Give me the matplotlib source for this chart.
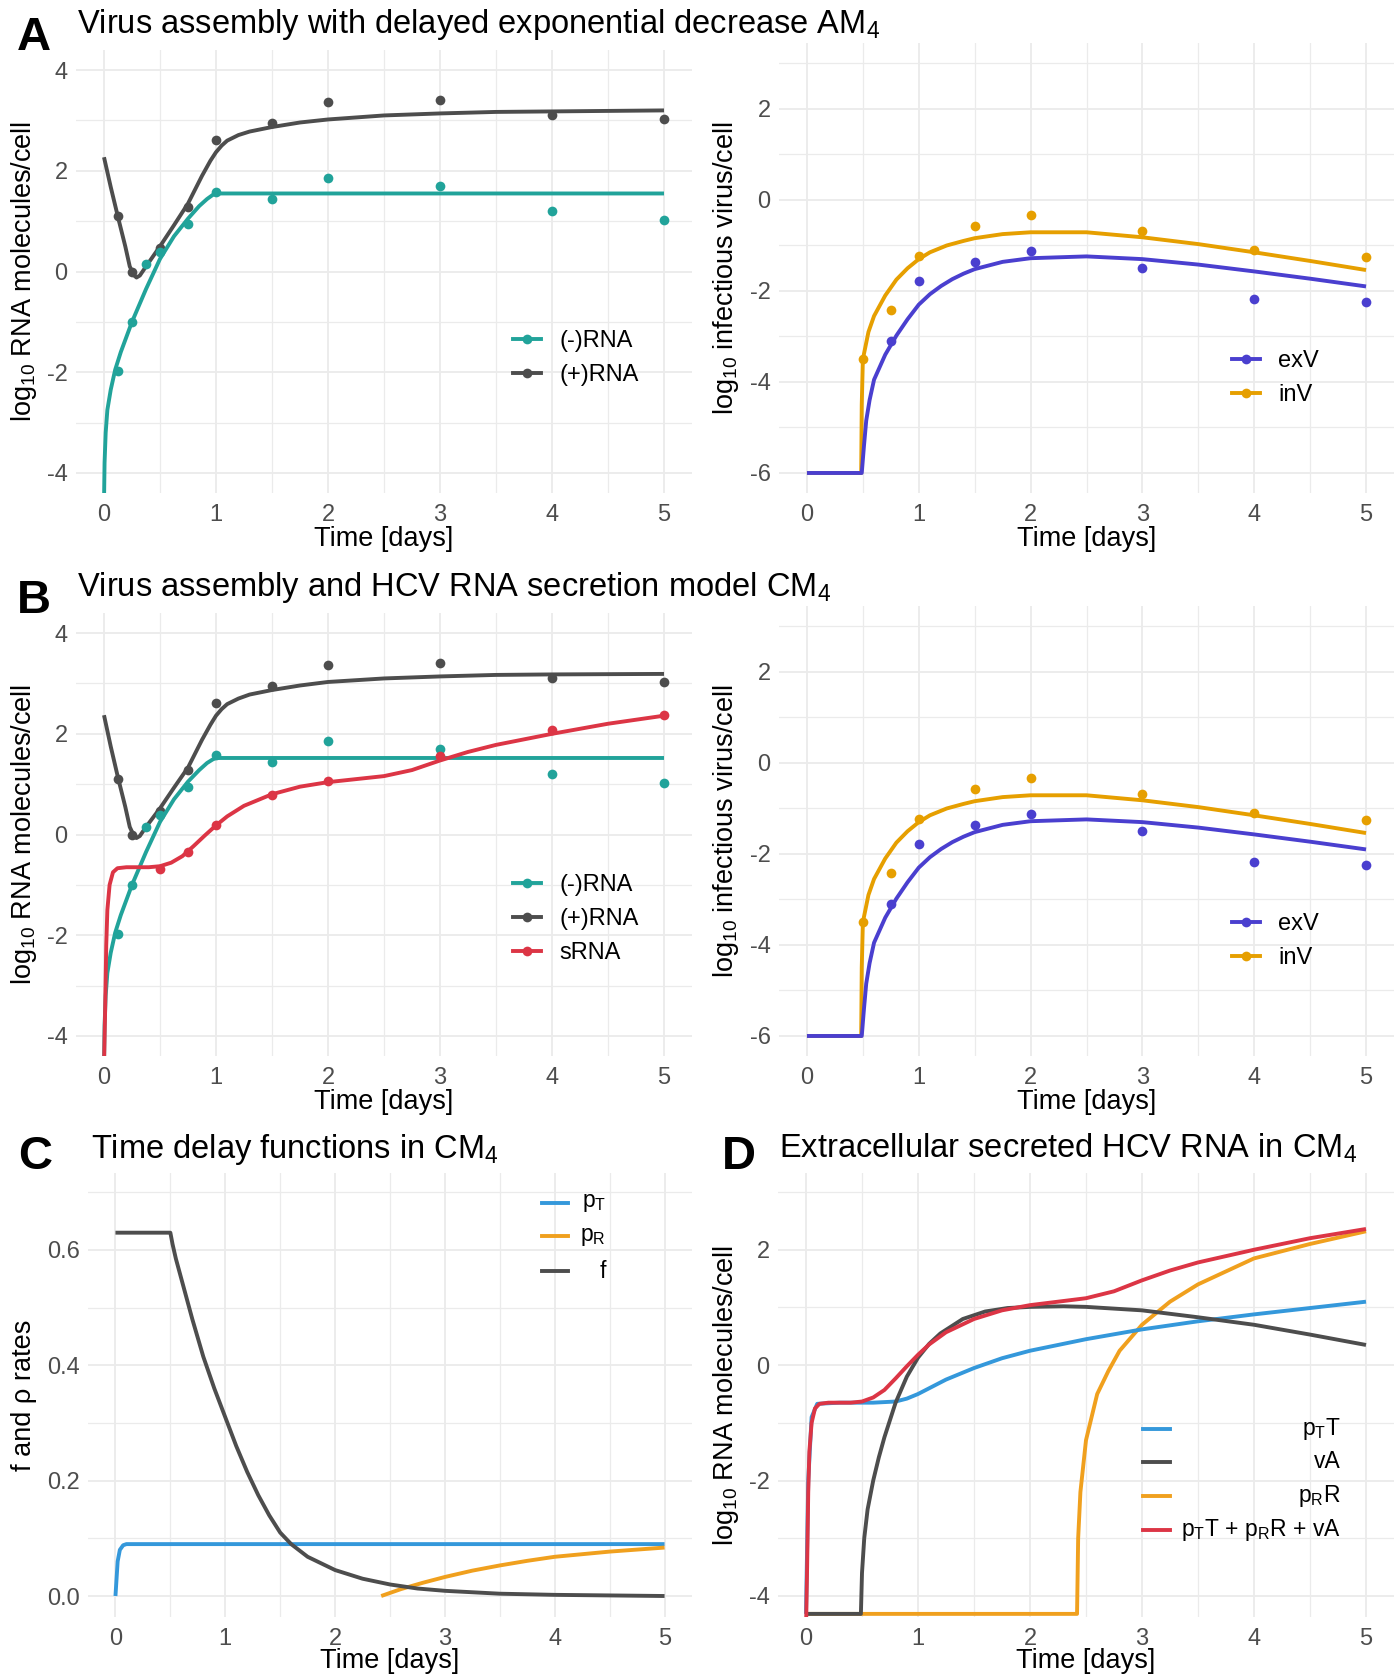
import matplotlib.pyplot as plt
from matplotlib.lines import Line2D

plt.rcParams['font.family'] = ['Liberation Sans', 'DejaVu Sans']
plt.rcParams['mathtext.default'] = 'regular'
plt.rcParams['axes.unicode_minus'] = False

# colours
teal = '#21A39A'
dgrey = '#4D4D4D'
red = '#DC3545'
violet = '#4A3FCF'
gold = '#E69F00'
sky = '#3498DB'
amber = '#F0A01E'

# ---- observations ----
t_neg = [0.125, 0.25, 0.375, 0.5, 0.75, 1, 1.5, 2, 3, 4, 5]
neg_obs = [-1.98, -1.0, 0.15, 0.39, 0.95, 1.57, 1.45, 1.85, 1.70, 1.21, 1.02]
t_pos = [0.125, 0.25, 0.5, 0.75, 1, 1.5, 2, 3, 4, 5]
pos_obs = [1.1, 0.0, 0.47, 1.28, 2.61, 2.94, 3.36, 3.41, 3.10, 3.02]
t_srna = [0.5, 0.75, 1, 1.5, 2, 3, 4, 5]
srna_obs = [-0.69, -0.35, 0.18, 0.78, 1.06, 1.55, 2.08, 2.37]
t_exv = [0.75, 1, 1.5, 2, 3, 4, 5]
exv_obs = [-3.11, -1.78, -1.36, -1.12, -1.50, -2.18, -2.25]
t_inv = [0.5, 0.75, 1, 1.5, 2, 3, 4, 5]
inv_obs = [-3.49, -2.41, -1.24, -0.58, -0.33, -0.68, -1.10, -1.26]

# ---- model curves, panel A ----
tA_neg = [0.0, 0.005, 0.015, 0.03, 0.06, 0.1, 0.15, 0.25, 0.375, 0.5, 0.625, 0.75, 0.85, 0.92, 0.97, 1.0, 5.0]
A_neg = [-4.6, -3.8, -3.2, -2.75, -2.35, -1.95, -1.6, -1.0, -0.35, 0.25, 0.7, 1.05, 1.3, 1.44, 1.52, 1.55, 1.55]
tA_pos = [0.0, 0.06, 0.125, 0.19, 0.23, 0.27, 0.29, 0.32, 0.375, 0.5, 0.625, 0.75, 0.875, 0.95, 1.0,
          1.05, 1.1, 1.2, 1.3, 1.5, 1.75, 2.0, 2.5, 3.0, 3.5, 4.0, 5.0]
A_pos = [2.27, 1.68, 1.08, 0.5, 0.1, -0.08, -0.12, -0.08, 0.1, 0.5, 0.92, 1.35, 1.9, 2.2, 2.37,
         2.5, 2.6, 2.71, 2.78, 2.87, 2.96, 3.02, 3.1, 3.14, 3.17, 3.18, 3.2]

# ---- model curves, panel B ----
B_neg = [-4.6, -3.8, -3.2, -2.75, -2.35, -1.95, -1.6, -1.0, -0.35, 0.25, 0.7, 1.05, 1.28, 1.42, 1.49, 1.52, 1.52]
B_pos = [2.37, 1.75, 1.13, 0.55, 0.15, -0.04, -0.07, -0.03, 0.15, 0.52, 0.93, 1.33, 1.88, 2.18, 2.36,
         2.49, 2.59, 2.7, 2.78, 2.87, 2.96, 3.03, 3.1, 3.14, 3.17, 3.18, 3.19]
tB_s = [0.0, 0.01, 0.02, 0.03, 0.05, 0.08, 0.12, 0.2, 0.3, 0.4, 0.5, 0.6, 0.7, 0.8, 0.9, 1.0, 1.1,
        1.25, 1.5, 1.75, 2.0, 2.25, 2.5, 2.75, 3.0, 3.25, 3.5, 4.0, 4.5, 5.0]
B_s = [-4.6, -3.5, -2.2, -1.5, -1.0, -0.75, -0.67, -0.65, -0.65, -0.65, -0.63, -0.56, -0.43, -0.23,
       -0.02, 0.18, 0.36, 0.57, 0.8, 0.95, 1.04, 1.1, 1.16, 1.28, 1.47, 1.64, 1.78, 2.0, 2.2, 2.36]

# ---- infectious virus curves (A and B) ----
t_exv_fit = [0, 0.49, 0.51, 0.53, 0.56, 0.6, 0.7, 0.8, 0.9, 1.0, 1.1, 1.2, 1.3, 1.4, 1.5, 1.75, 2.0,
             2.5, 3.0, 3.5, 4.0, 4.5, 5.0]
exv_fit = [-6, -6, -5.4, -4.85, -4.4, -3.95, -3.4, -2.98, -2.62, -2.3, -2.07, -1.89, -1.74, -1.62, -1.52,
           -1.36, -1.28, -1.24, -1.3, -1.42, -1.57, -1.73, -1.9]
t_inv_fit = [0, 0.485, 0.49, 0.5, 0.55, 0.6, 0.7, 0.8, 0.9, 1.0, 1.1, 1.25, 1.4, 1.5, 1.75, 2.0, 2.5,
             3.0, 3.5, 4.0, 4.5, 5.0]
inv_fit = [-6, -6, -4.5, -3.5, -2.9, -2.55, -2.1, -1.75, -1.5, -1.3, -1.15, -1.0, -0.9, -0.84, -0.75,
           -0.71, -0.71, -0.82, -0.97, -1.15, -1.34, -1.54]

# ---- panel C: delay functions ----
t_pT = [0.0, 0.01, 0.02, 0.04, 0.07, 0.1, 5.0]
pT = [0.0, 0.03, 0.06, 0.08, 0.088, 0.09, 0.09]
t_pR = [2.42, 2.6, 2.8, 3.0, 3.25, 3.5, 3.75, 4.0, 4.5, 5.0]
pR = [0.0, 0.012, 0.023, 0.033, 0.044, 0.053, 0.061, 0.068, 0.077, 0.084]
t_f = [0, 0.5, 0.52, 0.55, 0.6, 0.65, 0.7, 0.8, 0.9, 1.0, 1.1, 1.2, 1.3, 1.4, 1.5, 1.6, 1.75, 2.0,
       2.25, 2.5, 2.75, 3.0, 3.5, 4.0, 4.5, 5.0]
f_rate = [0.63, 0.63, 0.61, 0.585, 0.55, 0.515, 0.48, 0.415, 0.36, 0.31, 0.26, 0.215, 0.175, 0.14, 0.11,
          0.09, 0.068, 0.045, 0.03, 0.02, 0.013, 0.009, 0.004, 0.002, 0.001, 0.0]

# ---- panel D: secreted RNA ----
t_pTT = [0.0, 0.02, 0.05, 0.1, 0.3, 0.6, 0.8, 0.9, 1.0, 1.1, 1.25, 1.5, 1.75, 2.0, 2.5, 3.0, 3.5, 4.0, 4.5, 5.0]
pTT = [-4.31, -2.0, -0.9, -0.67, -0.65, -0.65, -0.63, -0.58, -0.5, -0.4, -0.25, -0.05, 0.12, 0.25, 0.45,
       0.62, 0.76, 0.88, 0.99, 1.1]
t_vA = [0.0, 0.49, 0.5, 0.52, 0.55, 0.6, 0.65, 0.7, 0.8, 0.9, 1.0, 1.1, 1.2, 1.4, 1.6, 1.8, 2.0, 2.3,
        2.5, 3.0, 3.5, 4.0, 4.5, 5.0]
vA = [-4.31, -4.31, -3.6, -3.0, -2.5, -2.0, -1.6, -1.25, -0.65, -0.2, 0.13, 0.37, 0.55, 0.8, 0.93, 0.99,
      1.01, 1.02, 1.01, 0.95, 0.83, 0.7, 0.53, 0.35]
t_pRR = [0.0, 2.42, 2.43, 2.45, 2.5, 2.6, 2.7, 2.8, 3.0, 3.25, 3.5, 4.0, 4.5, 5.0]
pRR = [-4.31, -4.31, -3.0, -2.2, -1.3, -0.5, -0.1, 0.25, 0.7, 1.1, 1.4, 1.85, 2.1, 2.32]

W, H = 1400, 1680
fig = plt.figure(figsize=(W / 100, H / 100), dpi=100)


def add_ax(left, right, top, bottom):
    return fig.add_axes([left / W, 1 - bottom / H, (right - left) / W, (bottom - top) / H])


def style(ax, ylim, yticks, yminor, top, bottom, left, right, xlab_y, ylab_x, ylabel):
    ax.set_xlim(-0.25, 5.25)
    ax.set_ylim(ylim)
    ax.set_xticks(range(6))
    ax.set_xticks([0.5, 1.5, 2.5, 3.5, 4.5], minor=True)
    ax.set_yticks(yticks)
    ax.set_yticks(yminor, minor=True)
    ax.grid(which='major', color='#EBEBEB', lw=1.3)
    ax.grid(which='minor', color='#EBEBEB', lw=0.9)
    ax.set_axisbelow(True)
    for s in ax.spines.values():
        s.set_visible(False)
    ax.tick_params(which='both', length=0, labelsize=17, labelcolor='#4D4D4D')
    ax.tick_params(axis='x', pad=8)
    ax.tick_params(axis='y', pad=6)
    ax.set_xlabel('Time [days]', fontsize=19.5, va='center')
    ax.xaxis.set_label_coords(0.5, (bottom - xlab_y) / (bottom - top))
    ax.set_ylabel(ylabel, fontsize=19.5, va='center')
    ax.yaxis.set_label_coords((ylab_x - left) / (right - left), 0.5)


def series(ax, tf, yf, to, yo, col):
    ax.plot(tf, yf, color=col, lw=2.8, solid_capstyle='butt')
    if to is not None:
        ax.plot(to, yo, 'o', color=col, ms=7, mew=0)


def dot_legend(ax, labels, cols, x, yc):
    hs = [Line2D([], [], color=c, lw=2.8, marker='o', ms=7, mew=0) for c in cols]
    ax.legend(hs, labels, loc='center left', bbox_to_anchor=(x / W, 1 - yc / H),
              bbox_transform=fig.transFigure, frameon=False, borderpad=0, borderaxespad=0,
              handlelength=1.2, handletextpad=0.76, labelspacing=0.5, fontsize=17)


def line_legend(labels, cols, x0, x1, xr, ys):
    for lab, c, y in zip(labels, cols, ys):
        fig.add_artist(Line2D([x0 / W, x1 / W], [1 - y / H, 1 - y / H], color=c, lw=2.8,
                              transform=fig.transFigure))
        fig.text(xr / W, 1 - y / H, lab, ha='right', va='center', fontsize=16.5)


def heading(letter, text, lx, tx, base_l, base_t):
    fig.text(lx / W, 1 - base_l / H, letter, fontsize=34, fontweight='bold', va='baseline')
    fig.text(tx / W, 1 - base_t / H, text, fontsize=23.5, va='baseline')


rna_lab = 'log$_{10}$ RNA molecules/cell'
vir_lab = 'log$_{10}$ infectious virus/cell'

for off, neg, pos, with_s in [(0, A_neg, A_pos, False), (563, B_neg, B_pos, True)]:
    ax = add_ax(76, 692, 50 + off, 493 + off)
    style(ax, (-4.4, 4.4), [-4, -2, 0, 2, 4], [-3, -1, 1, 3], 50 + off, 493 + off, 76, 692,
          539 + off, 24, rna_lab)
    series(ax, tA_pos, pos, t_pos, pos_obs, dgrey)
    series(ax, tA_neg, neg, t_neg, neg_obs, teal)
    if with_s:
        series(ax, tB_s, B_s, t_srna, srna_obs, red)
        dot_legend(ax, ['(-)RNA', '(+)RNA', 'sRNA'], [teal, dgrey, red], 513, 919)
    else:
        dot_legend(ax, ['(-)RNA', '(+)RNA'], [teal, dgrey], 513, 358)

    ax = add_ax(779, 1394, 43 + off, 493 + off)
    style(ax, (-6.44, 3.45), [-6, -4, -2, 0, 2], [-5, -3, -1, 1, 3], 43 + off, 493 + off, 779, 1394,
          539 + off, 726, vir_lab)
    series(ax, t_inv_fit, inv_fit, t_inv, inv_obs, gold)
    series(ax, t_exv_fit, exv_fit, t_exv, exv_obs, violet)
    dot_legend(ax, ['exV', 'inV'], [violet, gold], 1232, 378 + off)

heading('A', 'Virus assembly with delayed exponential decrease AM$_4$', 17, 77, 50, 33)
heading('B', 'Virus assembly and HCV RNA secretion model CM$_4$', 17, 77, 613, 596)

# panel C
ax = add_ax(88, 692, 1173, 1617)
style(ax, (-0.0364, 0.7335), [0.0, 0.2, 0.4, 0.6], [0.1, 0.3, 0.5, 0.7], 1173, 1617, 88, 692,
      1661, 24, 'f and ρ rates')
ax.set_yticklabels(['0.0', '0.2', '0.4', '0.6'])
series(ax, t_pT, pT, None, None, sky)
series(ax, t_pR, pR, None, None, amber)
series(ax, t_f, f_rate, None, None, dgrey)
line_legend(['p$_T$', 'p$_R$', 'f'], [sky, amber, dgrey], 542, 568, 606, [1203, 1236, 1271])
heading('C', 'Time delay functions in CM$_4$', 18, 91, 1169, 1158)

# panel D
ax = add_ax(778, 1394, 1173, 1617)
style(ax, (-4.364, 3.33), [-4, -2, 0, 2], [-3, -1, 1, 3], 1173, 1617, 778, 1394, 1661, 726, rna_lab)
series(ax, t_pRR, pRR, None, None, amber)
series(ax, t_pTT, pTT, None, None, sky)
series(ax, t_vA, vA, None, None, dgrey)
series(ax, tB_s, B_s, None, None, red)
line_legend(['p$_T$T', 'vA', 'p$_R$R', 'p$_T$T + p$_R$R + vA'], [sky, dgrey, amber, red],
            1143, 1170, 1341, [1429, 1462, 1496, 1530])
heading('D', 'Extracellular secreted HCV RNA in CM$_4$', 722, 779, 1169, 1158)

fig.savefig('out.png', dpi=100, facecolor='white')
